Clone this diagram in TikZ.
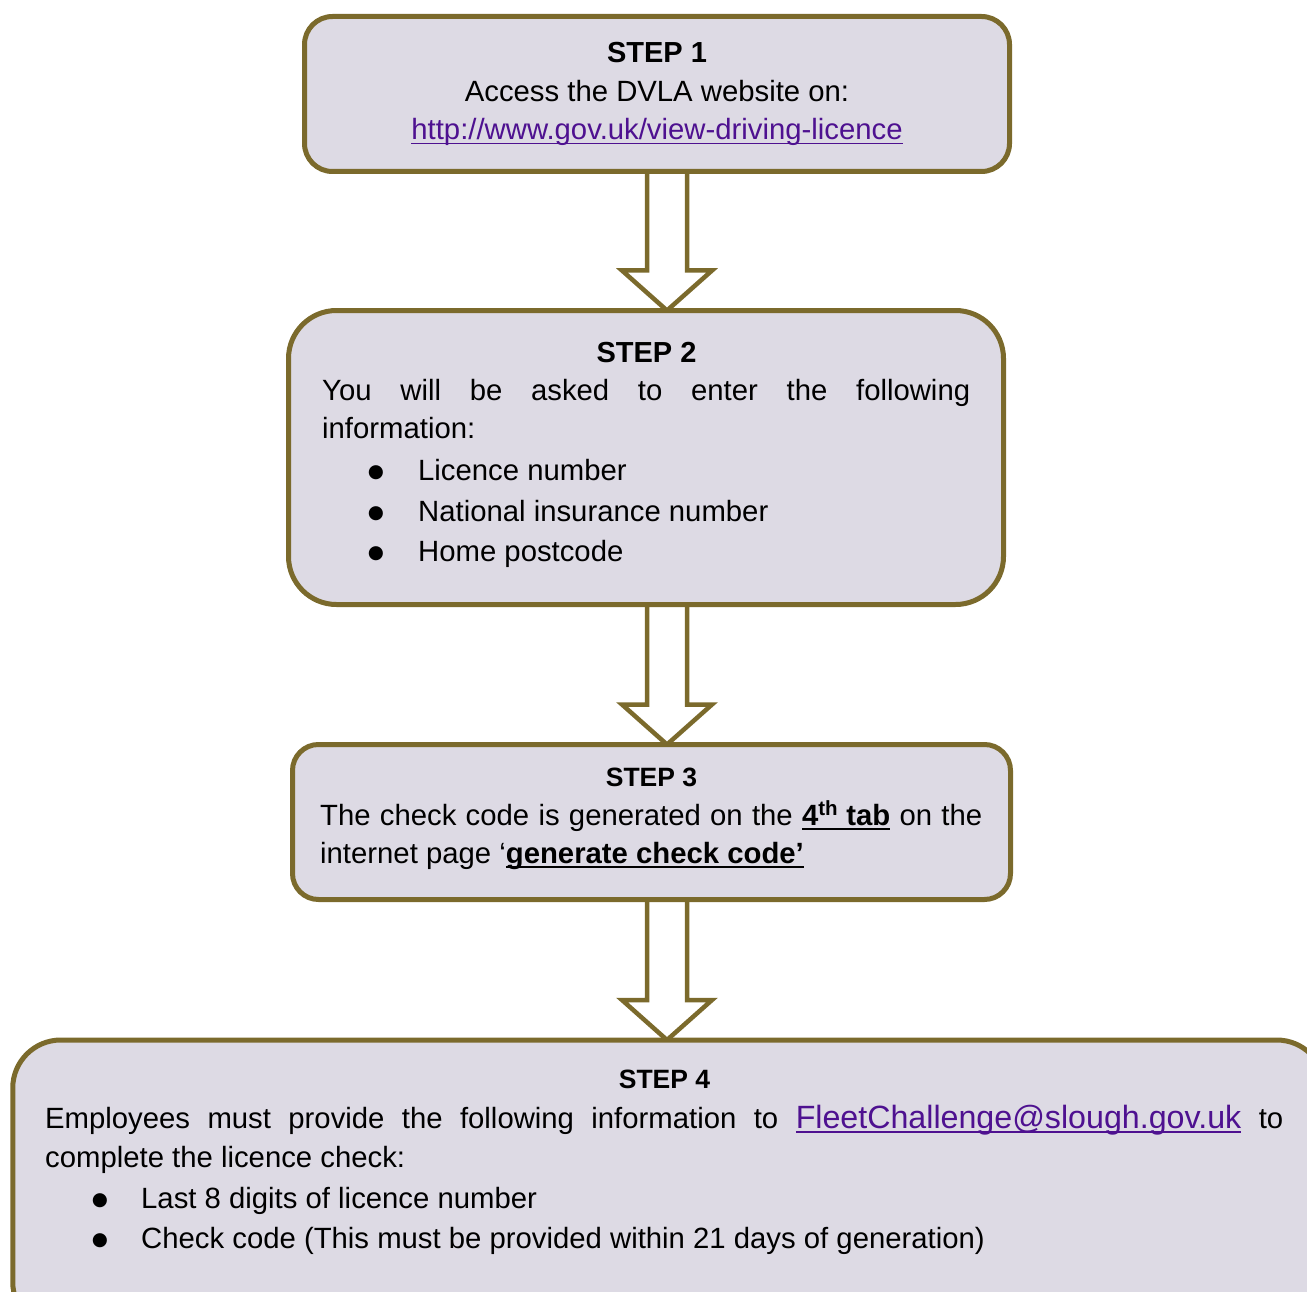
\documentclass[tikz,border=0pt]{standalone}
\usepackage{fontspec}
\setmainfont{Liberation Sans}
\newfontfamily\dotfont{DejaVu Sans}
\usepackage{tikz}
\usetikzlibrary{calc, backgrounds}

\definecolor{boxline}{HTML}{7B6A2C}
\definecolor{boxfill}{HTML}{DDDAE4}
\definecolor{linkcol}{HTML}{4E1190}

% underline at a fixed depth
\newsavebox\ulbox
\newcommand\ulin[1]{\sbox\ulbox{#1}\rlap{\rule[-4.5pt]{\wd\ulbox}{1.8pt}}\usebox\ulbox}

% hollow block arrow from one box down to the next
\newcommand\blockarr[2]{%
  \draw[blockarrow] let \p1=(#1.south -| ax), \p2=(#2.north -| ax) in
    (\x1-20pt,\y1) -- (\x1-20pt,\y2+40pt) -- (\x1-45pt,\y2+40pt) -- (\x2,\y2)
    -- (\x1+45pt,\y2+40pt) -- (\x1+20pt,\y2+40pt) -- (\x1+20pt,\y1);}

\begin{document}
\begin{tikzpicture}[x=1pt,y=-1pt,
  stepbox/.style={draw=boxline, fill=boxfill, line width=5pt, outer sep=0pt, inner sep=0pt},
  blockarrow/.style={draw=boxline, fill=white, line width=4.5pt, line join=miter},
  bodytext/.style={font=\fontsize{29.3pt}{39pt}\selectfont, inner sep=0pt, anchor=base west},
  bullettext/.style={font=\dotfont\fontsize{18.5pt}{20pt}\selectfont, inner sep=0pt, anchor=base},
  headtext/.style={font=\fontsize{29pt}{39pt}\selectfont\bfseries, inner sep=0pt, anchor=base},
  smallhead/.style={font=\fontsize{26.5pt}{39pt}\selectfont\bfseries}]
\useasboundingbox (0,0) rectangle (1307,1292);
\clip (0,0) rectangle (1307,1292);

% Step boxes
\node[stepbox, rounded corners=28pt, minimum width=705pt, minimum height=155pt] (s1) at (657,94) {};
\node[stepbox, rounded corners=48pt, minimum width=715pt, minimum height=294pt] (s2) at (646,457.5) {};
\node[stepbox, rounded corners=26pt, minimum width=718pt, minimum height=155pt] (s3) at (651.5,822) {};
\node[stepbox, rounded corners=48pt, minimum width=1312pt, minimum height=290pt] (s4) at (668.75,1185) {};

% Arrows between the boxes
\coordinate (ax) at (667,0);
\begin{scope}[on background layer]
\blockarr{s1}{s2}
\blockarr{s2}{s3}
\blockarr{s3}{s4}
\end{scope}

% Step 1
\node[headtext] (h1) at (657,63) {STEP 1};
\node[bodytext, anchor=base] (t1) at (657,102) {Access the DVLA website on:};
\node[bodytext, anchor=base, text=linkcol] (u1) at (657,140) {\ulin{http://www.gov.uk/view-driving-licence}};

% Step 2
\node[headtext] (h2) at (646.5,362) {STEP 2};
\node[bodytext] (t2a) at (322,400) {\makebox[648pt][s]{You will be asked to enter the following}};
\node[bodytext] (t2b) at (322,438) {information:};
\foreach \txt/\yy [count=\i] in {Licence number/480, National insurance number/521, Home postcode/561} {
    \node[bullettext] (b2\i) at (376,\yy-3) {●};
    \node[bodytext] (l2\i) at (418,\yy) {\txt};
}

% Step 3
\node[headtext, smallhead] (h3) at (651.5,786) {STEP 3};
\node[bodytext] (t3a) at (320,825) {\makebox[662pt][s]{The check code is generated on the \ulin{\textbf{4\textsuperscript{th} tab}} on the}};
\node[bodytext] (t3b) at (320,863) {internet page ‘\ulin{\textbf{generate check code’}}};

% Step 4
\node[headtext, smallhead] (h4) at (664.5,1088) {STEP 4};
\node[bodytext] (t4a) at (45,1128) {\makebox[1238pt][s]{Employees must provide the following information to {\fontsize{32.2pt}{39pt}\selectfont\color{linkcol}\ulin{FleetChallenge@slough.gov.uk}} to}};
\node[bodytext] (t4b) at (45,1167) {complete the licence check:};
\foreach \txt/\yy [count=\i] in {Last 8 digits of licence number/1208, Check code (This must be provided within 21 days of generation)/1248} {
    \node[bullettext] (b4\i) at (100,\yy-3) {●};
    \node[bodytext] (l4\i) at (141,\yy) {\txt};
}
\end{tikzpicture}
\end{document}
